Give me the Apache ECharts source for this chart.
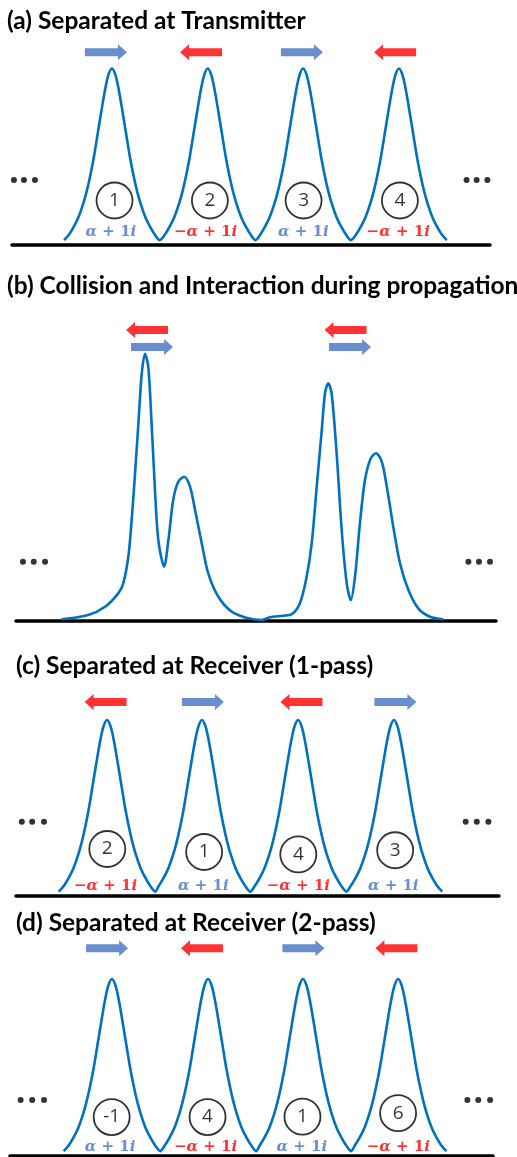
<!DOCTYPE html>
<html>
<head>
<meta charset="utf-8">
<script src="https://cdn.jsdelivr.net/npm/echarts@6/dist/echarts.min.js"></script>
<style>
  html, body { margin: 0; padding: 0; background: #fff; }
  #chart { width: 517px; height: 1157px; }
</style>
</head>
<body>
<div id="chart"></div>
<script>
// ---------- data (time t, normalised amplitude |q|) ----------

// Right half of one isolated soliton pulse: offset from its centre and amplitude
const pulseOffset = [0, 0.15, 0.30, 0.45, 0.60, 0.75, 0.90, 1.05, 1.20, 1.40, 1.60, 1.80, 2.00];
const pulseAmp    = [1.0, 0.962, 0.87, 0.75, 0.625, 0.50, 0.395, 0.305, 0.232, 0.155, 0.10, 0.055, 0.025];

// Pulse centres in each separated train
const centersA = [-5.82, -1.81, 2.18, 6.19];
const centersC = [-6.23, -2.30, 1.68, 5.65];
const centersD = [-5.78, -1.80, 2.13, 6.07];

// Colliding pulses during propagation
const collisionT = [-8.10, -6.99, -6.29, -5.74, -5.53, -5.32, -5.18, -5.04, -4.90, -4.76, -4.625,
  -4.49, -4.35, -4.21, -4.07, -3.83, -3.65, -3.45, -3.24, -2.99, -2.75, -2.54, -2.26, -1.99,
  -1.57, -1.01, -0.32, 0.24, 0.58, 1.14, 1.49, 1.83, 2.11, 2.32, 2.53, 2.74, 2.875, 3.01, 3.15,
  3.36, 3.57, 3.78, 3.95, 4.125, 4.33, 4.54, 4.78, 5.00, 5.24, 5.45, 5.72, 6.0, 6.35, 6.76,
  7.25, 7.80];
const collisionAmp = [0.010, 0.034, 0.081, 0.157, 0.214, 0.365, 0.574, 0.839, 1.123, 1.407, 1.517,
  1.445, 1.123, 0.744, 0.460, 0.309, 0.460, 0.688, 0.791, 0.820, 0.763, 0.631, 0.441, 0.271,
  0.138, 0.053, 0.015, 0.006, 0.021, 0.030, 0.038, 0.101, 0.252, 0.441, 0.763, 1.085, 1.294,
  1.351, 1.294, 0.953, 0.517, 0.214, 0.119, 0.252, 0.555, 0.801, 0.924, 0.953, 0.905, 0.763,
  0.536, 0.328, 0.176, 0.072, 0.024, 0.010];

// Circled pulse indices
const tagsA = ['1', '2', '3', '4'];
const tagsC = ['2', '1', '4', '3'];
const tagsD = ['-1', '4', '1', '6'];
const tagTA = [-5.71, -1.72, 2.20, 6.23];  const tagAmpA = [0.25, 0.25, 0.25, 0.25];
const tagTC = [-6.22, -2.21, 1.69, 5.70];  const tagAmpC = [0.267, 0.25, 0.236, 0.26];
const tagTD = [-5.79, -1.82, 2.11, 6.07];  const tagAmpD = [0.218, 0.218, 0.22, 0.24];

// Sign of the eigenvalue's real part: +1 -> α + 1i (moves right), -1 -> −α + 1i (moves left)
const signA = [1, -1, 1, -1];
const signC = [-1, 1, -1, 1];
const signD = [1, -1, 1, -1];
const eigTA = [-5.86, -1.90, 2.19, 6.16];  const eigAmpA = 0.068;
const eigTC = [-6.29, -2.24, 1.69, 5.62];  const eigAmpC = 0.057;
const eigTD = [-5.86, -1.90, 2.08, 6.08];  const eigAmpD = 0.05;

// Direction arrows above the pulses
const arrowTA = [-6.07, -2.09, 2.13, 6.03];  const arrowAmpA = 1.092;
const arrowTC = [-6.29, -2.26, 1.82, 5.71];  const arrowAmpC = 1.102;
const arrowTD = [-5.98, -2.05, 2.15, 6.00];  const arrowAmpD = 1.174;
const arrowTB   = [-4.54, -4.33, 3.73, 3.92];
const arrowAmpB = [1.653, 1.557, 1.653, 1.557];
const arrowDirB = [-1, 1, -1, 1];

// Ellipsis dots on both ends of each train
const dotsTA = [-9.92, -9.50, -9.04, 9.02, 9.44, 9.89];  const dotsAmpA = 0.366;
const dotsTB = [-9.71, -9.26, -8.79, 8.85, 9.29, 9.75];  const dotsAmpB = 0.337;
const dotsTC = [-9.76, -9.33, -8.84, 8.62, 9.08, 9.56];  const dotsAmpC = 0.422;
const dotsTD = [-9.56, -9.08, -8.59, 8.94, 9.39, 9.88];  const dotsAmpD = 0.314;

const panelTitles = [
  '(a) Separated at Transmitter',
  '(b) Collision and Interaction during propagation',
  '(c) Separated at Receiver (1-pass)',
  '(d) Separated at Receiver (2-pass)'
];

// ---------- styling ----------
const CURVE = '#0070C0';
const BLUE = '#4472C4';
const RED = '#FF0000';
const ARROW_RIGHT = 'path://M0,4 L33,4 L33,0 L42,8 L33,16 L33,12 L0,12 Z';
const ARROW_LEFT  = 'path://M42,4 L9,4 L9,0 L0,8 L9,16 L9,12 L42,12 Z';
const TITLE_FONT = 'Lato';
const MATH_FONT = '"DejaVu Serif", serif';
const MATH_SIZE = 15;

// Build a pulse train by mirroring the single-pulse profile around each centre
function pulseTrain(centers) {
  const pts = [];
  const n = pulseOffset.length;
  centers.forEach((c, i) => {
    for (let k = n - 1; k >= 0; k--) {
      if (i > 0 && k === n - 1) continue;
      pts.push([c - pulseOffset[k], pulseAmp[k]]);
    }
    for (let k = 1; k < n; k++) pts.push([c + pulseOffset[k], pulseAmp[k]]);
  });
  return pts;
}

function curveSeries(g, data) {
  return {
    type: 'line', xAxisIndex: g, yAxisIndex: g, data: data,
    smooth: 0.3, showSymbol: false, silent: true, z: 2,
    lineStyle: { color: CURVE, width: 2.6 }
  };
}

function tagSeries(g, ts, amps, tags) {
  return {
    type: 'scatter', xAxisIndex: g, yAxisIndex: g, clip: false, silent: true, z: 3,
    symbol: 'circle', symbolSize: 36,
    itemStyle: { color: 'rgba(255,255,255,0)', borderColor: '#000', borderWidth: 1.8 },
    label: {
      show: true, position: 'inside', color: '#000',
      fontFamily: '"Open Sans"', fontSize: 19,
      formatter: p => p.name
    },
    data: ts.map((t, i) => ({ name: tags[i], value: [t, amps[i]] }))
  };
}

function eigenSeries(g, ts, amp, signs) {
  return {
    type: 'scatter', xAxisIndex: g, yAxisIndex: g, clip: false, silent: true, z: 4,
    symbolSize: 1, itemStyle: { color: 'rgba(0,0,0,0)' },
    data: ts.map((t, i) => {
      const col = signs[i] > 0 ? BLUE : RED;
      return {
        value: [t, amp],
        label: {
          show: true, position: 'inside',
          fontFamily: MATH_FONT, fontSize: MATH_SIZE, fontWeight: 'bold', color: col,
          formatter: (signs[i] > 0 ? '' : '{u|−}') + '{v|α} {u|+} {u|1}{v|i}',
          rich: {
            v: { fontFamily: MATH_FONT, fontSize: MATH_SIZE, fontWeight: 'bold', fontStyle: 'italic', color: col },
            u: { fontFamily: MATH_FONT, fontSize: MATH_SIZE, fontWeight: 'bold', color: col }
          }
        }
      };
    })
  };
}

function arrowSeries(g, ts, amps, dirs) {
  return {
    type: 'scatter', xAxisIndex: g, yAxisIndex: g, clip: false, silent: true, z: 4,
    symbolSize: [42, 16],
    data: ts.map((t, i) => ({
      value: [t, amps[i]],
      symbol: dirs[i] > 0 ? ARROW_RIGHT : ARROW_LEFT,
      itemStyle: { color: dirs[i] > 0 ? BLUE : RED }
    }))
  };
}

function dotSeries(g, ts, amp) {
  return {
    type: 'scatter', xAxisIndex: g, yAxisIndex: g, clip: false, silent: true, z: 4,
    symbol: 'circle', symbolSize: 6, itemStyle: { color: '#000' },
    data: ts.map(t => [t, amp])
  };
}

// Panel frames: baseline is the x-axis line of each grid
const grids = [
  { left: 12, width: 478, top: 24.5, height: 220 },
  { left: 16, width: 480, top: 304.2, height: 316.8 },
  { left: 16, width: 483, top: 676, height: 220 },
  { left: 10, width: 483, top: 934.9, height: 220.6 }
];
const yMax = [1.25, 1.8, 1.25, 1.25];
const titleBox = [
  { left: 7, top: 8.5, size: 24.5 },
  { left: 7, top: 273.5, size: 24.5 },
  { left: 16, top: 653.5, size: 24.5 },
  { left: 16, top: 910.5, size: 24.5 }
];

const option = {
  animation: false,
  backgroundColor: '#fff',
  title: panelTitles.map((t, i) => ({
    text: t, left: titleBox[i].left, top: titleBox[i].top, padding: 0,
    textStyle: { fontFamily: TITLE_FONT, fontWeight: 'bold', fontSize: titleBox[i].size, color: '#000' }
  })),
  grid: grids,
  xAxis: grids.map((g, i) => ({
    gridIndex: i, type: 'value', min: -10, max: 10,
    axisLine: { show: true, onZero: false, lineStyle: { color: '#000', width: 3.5 } },
    axisTick: { show: false }, axisLabel: { show: false }, splitLine: { show: false }
  })),
  yAxis: grids.map((g, i) => ({
    gridIndex: i, type: 'value', min: 0, max: yMax[i], show: false, splitLine: { show: false }
  })),
  series: [
    curveSeries(0, pulseTrain(centersA)),
    curveSeries(1, collisionT.map((t, i) => [t, collisionAmp[i]])),
    curveSeries(2, pulseTrain(centersC)),
    curveSeries(3, pulseTrain(centersD)),

    tagSeries(0, tagTA, tagAmpA, tagsA),
    tagSeries(2, tagTC, tagAmpC, tagsC),
    tagSeries(3, tagTD, tagAmpD, tagsD),

    eigenSeries(0, eigTA, eigAmpA, signA),
    eigenSeries(2, eigTC, eigAmpC, signC),
    eigenSeries(3, eigTD, eigAmpD, signD),

    arrowSeries(0, arrowTA, arrowTA.map(() => arrowAmpA), signA),
    arrowSeries(1, arrowTB, arrowAmpB, arrowDirB),
    arrowSeries(2, arrowTC, arrowTC.map(() => arrowAmpC), signC),
    arrowSeries(3, arrowTD, arrowTD.map(() => arrowAmpD), signD),

    dotSeries(0, dotsTA, dotsAmpA),
    dotSeries(1, dotsTB, dotsAmpB),
    dotSeries(2, dotsTC, dotsAmpC),
    dotSeries(3, dotsTD, dotsAmpD)
  ]
};

const chart = echarts.init(document.getElementById('chart'), null, { renderer: 'canvas' });
chart.setOption(option);
</script>
</body>
</html>
